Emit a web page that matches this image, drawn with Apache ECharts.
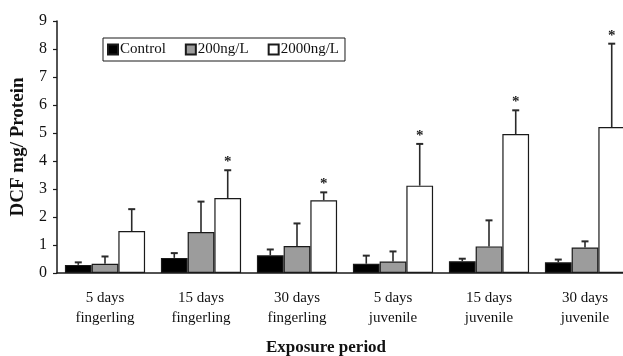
<!DOCTYPE html>
<html>
<head>
<meta charset="utf-8">
<script src="https://cdn.jsdelivr.net/npm/echarts@6/dist/echarts.min.js"></script>
<style>html,body{margin:0;padding:0;background:#fff;}#c{width:623px;height:356px;}</style>
</head>
<body>
<div id="c"></div>
<script>
var categories = ['5 days\nfingerling', '15 days\nfingerling', '30 days\nfingerling', '5 days\njuvenile', '15 days\njuvenile', '30 days\njuvenile'];
var seriesNames = ['Control', '200ng/L', '2000ng/L'];
var control = [0.29, 0.54, 0.63, 0.33, 0.42, 0.38];
var controlSD = [0.09, 0.17, 0.21, 0.29, 0.09, 0.10];
var ng200 = [0.33, 1.46, 0.96, 0.41, 0.95, 0.91];
var ng200SD = [0.26, 1.09, 0.81, 0.36, 0.93, 0.22];
var ng2000 = [1.50, 2.68, 2.60, 3.12, 4.96, 5.21];
var ng2000SD = [0.78, 0.99, 0.28, 1.49, 0.85, 2.98];
var significant2000 = [false, true, true, true, true, true];
var yTicks = [0, 1, 2, 3, 4, 5, 6, 7, 8, 9];

var FONT = '"Liberation Serif", "Times New Roman", serif';
var colors = ['#000000', '#9c9c9c', '#ffffff'];
var values = [control, ng200, ng2000];
var sds = [controlSD, ng200SD, ng2000SD];
var stars = [[false,false,false,false,false,false],[false,false,false,false,false,false], significant2000];
var CAT_GAP = 0.165;

var chart = echarts.init(document.getElementById('c'), null, {renderer: 'canvas'});

var series = [];
seriesNames.forEach(function (name, i) {
  series.push({
    name: name,
    type: 'bar',
    data: values[i],
    barGap: '0%',
    barCategoryGap: (CAT_GAP * 100) + '%',
    itemStyle: {color: colors[i], borderColor: '#1a1a1a', borderWidth: 1.2},
    emphasis: {disabled: true},
    z: 2
  });
});

seriesNames.forEach(function (name, i) {
  var data = values[i].map(function (v, k) { return [k, v, v + sds[i][k], stars[i][k] ? 1 : 0]; });
  series.push({
    type: 'custom',
    data: data,
    z: 3,
    silent: true,
    renderItem: function (params, api) {
      var k = api.value(0);
      var base = api.coord([k, api.value(1)]);
      var top = api.coord([k, api.value(2)]);
      var catW = api.size([1, 0])[0];
      var bw = catW * (1 - CAT_GAP) / 3;
      var x = base[0] + (i - 1) * bw;
      var children = [
        {type: 'line', shape: {x1: x, y1: base[1], x2: x, y2: top[1]}, style: {stroke: '#2a2a2a', lineWidth: 1.6}},
        {type: 'line', shape: {x1: x - 3.5, y1: top[1], x2: x + 3.5, y2: top[1]}, style: {stroke: '#2a2a2a', lineWidth: 2}}
      ];
      if (api.value(3)) {
        children.push({type: 'text', x: x, y: top[1] - 8, style: {text: '*', font: 'bold 15px ' + FONT, fill: '#222', textAlign: 'center', textVerticalAlign: 'middle'}});
      }
      return {type: 'group', children: children};
    }
  });
});

chart.setOption({
  animation: false,
  backgroundColor: '#fff',
  grid: {left: 57, right: -10, top: 21, bottom: 83, containLabel: false, outerBoundsMode: 'none'},
  legend: {
    data: seriesNames,
    left: 103, top: 38,
    orient: 'horizontal',
    icon: 'rect',
    padding: [4, 6, 4, 4],
    itemWidth: 10, itemHeight: 10, itemGap: 19,
    borderColor: '#1a1a1a', borderWidth: 1,
    textStyle: {fontFamily: FONT, fontSize: 15, color: '#111', padding: [0, 0, 0, -3]},
    selectedMode: false
  },
  xAxis: {
    type: 'category',
    data: categories,
    axisLine: {lineStyle: {color: '#1a1a1a', width: 1.5}},
    axisTick: {length: 4, lineStyle: {color: '#1a1a1a', width: 1.2}},
    axisLabel: {fontFamily: FONT, fontSize: 15, color: '#111', lineHeight: 20, margin: 15}
  },
  yAxis: {
    type: 'value',
    min: 0, max: 9, interval: 1,
    name: 'DCF mg/ Protein',
    nameLocation: 'middle',
    nameGap: 29,
    nameTextStyle: {fontFamily: FONT, fontSize: 19, fontWeight: 'bold', color: '#111'},
    axisLine: {show: true, lineStyle: {color: '#1a1a1a', width: 1.5}},
    axisTick: {show: true, length: 4, lineStyle: {color: '#1a1a1a', width: 1.2}},
    splitLine: {show: false},
    axisLabel: {fontFamily: FONT, fontSize: 16, color: '#111', margin: 10,
      formatter: function (v) { return yTicks.indexOf(v) >= 0 ? String(v) : ''; }}
  },
  graphic: [{
    type: 'text', x: 326, y: 348,
    style: {text: 'Exposure period', font: 'bold 17px ' + FONT, fill: '#111', textAlign: 'center', textVerticalAlign: 'middle'}
  }],
  series: series
});
</script>
</body>
</html>
